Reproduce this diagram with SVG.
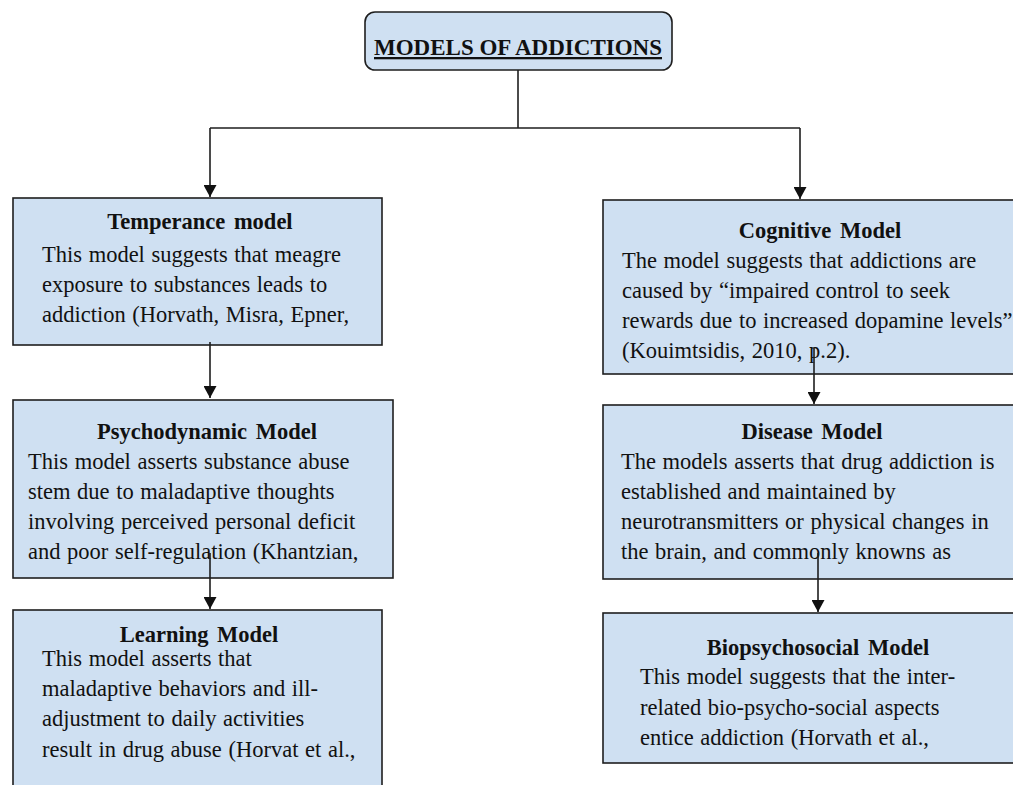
<svg xmlns="http://www.w3.org/2000/svg" width="1013" height="785" viewBox="0 0 1013 785">
<style>
.box{fill:#cfe0f2;stroke:#1e1e1e;stroke-width:1.6}
.t{font-family:"Liberation Serif","Times New Roman",serif;font-size:22.5px;fill:#111;word-spacing:1px}
.h{font-weight:bold;text-anchor:middle;word-spacing:3px}
.ttl{font-family:"Liberation Serif","Times New Roman",serif;font-size:23px;font-weight:bold;fill:#111;text-anchor:middle;text-decoration:underline}
.ln{fill:none;stroke:#1e1e1e;stroke-width:1.6}
</style>
<defs>
<marker id="ah" viewBox="0 0 12 13" refX="12" refY="6.5" markerWidth="12" markerHeight="13" markerUnits="userSpaceOnUse" orient="auto">
<path d="M0,0 L12,6.5 L0,13 Z" fill="#111"/>
</marker>
</defs>
<rect width="1013" height="785" fill="#fff"/>
<g id="title">
<rect class="box" x="365" y="12" width="307" height="58" rx="10"/>
<text class="ttl" x="518" y="55">MODELS OF ADDICTIONS</text>
</g>
<g id="temperance">
<rect class="box" x="13" y="198" width="369" height="147"/>
<text class="t h" x="200" y="229">Temperance model</text>
<text class="t" x="42" y="262">This model suggests that meagre</text>
<text class="t" x="42" y="292">exposure to substances leads to</text>
<text class="t" x="42" y="322">addiction (Horvath, Misra, Epner,</text>
</g>
<g id="psychodynamic">
<rect class="box" x="13" y="400" width="380" height="178"/>
<text class="t h" x="207" y="439">Psychodynamic Model</text>
<text class="t" x="28" y="469">This model asserts substance abuse</text>
<text class="t" x="28" y="499">stem due to maladaptive thoughts</text>
<text class="t" x="28" y="529">involving perceived personal deficit</text>
<text class="t" x="28" y="559">and poor self-regulation (Khantzian,</text>
</g>
<g id="learning">
<rect class="box" x="13" y="610" width="369" height="190"/>
<text class="t h" x="199" y="642">Learning Model</text>
<text class="t" x="42" y="666">This model asserts that</text>
<text class="t" x="42" y="696">maladaptive behaviors and ill-</text>
<text class="t" x="42" y="726">adjustment to daily activities</text>
<text class="t" x="42" y="757">result in drug abuse (Horvat et al.,</text>
</g>
<g id="cognitive">
<rect class="box" x="603" y="200" width="420" height="174"/>
<text class="t h" x="820" y="238">Cognitive Model</text>
<text class="t" x="622" y="268">The model suggests that addictions are</text>
<text class="t" x="622" y="298">caused by “impaired control to seek</text>
<text class="t" x="622" y="328">rewards due to increased dopamine levels”</text>
<text class="t" x="622" y="358">(Kouimtsidis, 2010, p.2).</text>
</g>
<g id="disease">
<rect class="box" x="603" y="405" width="420" height="174"/>
<text class="t h" x="812" y="439">Disease Model</text>
<text class="t" x="621" y="469">The models asserts that drug addiction is</text>
<text class="t" x="621" y="499">established and maintained by</text>
<text class="t" x="621" y="529">neurotransmitters or physical changes in</text>
<text class="t" x="621" y="559">the brain, and commonly knowns as</text>
</g>
<g id="biopsychosocial">
<rect class="box" x="603" y="613" width="420" height="150"/>
<text class="t h" x="818" y="655">Biopsychosocial Model</text>
<text class="t" x="640" y="684">This model suggests that the inter-</text>
<text class="t" x="640" y="715">related bio-psycho-social aspects</text>
<text class="t" x="640" y="745">entice addiction (Horvath et al.,</text>
</g>
<g id="connectors">
<path class="ln" d="M518,70 V128"/>
<path class="ln" d="M210,128 H800"/>
<path class="ln" d="M210,128 V197" marker-end="url(#ah)"/>
<path class="ln" d="M800,128 V199" marker-end="url(#ah)"/>
<path class="ln" d="M210,342 V398" marker-end="url(#ah)"/>
<path class="ln" d="M210,553 V609" marker-end="url(#ah)"/>
<path class="ln" d="M814,348 V404" marker-end="url(#ah)"/>
<path class="ln" d="M818,553 V612" marker-end="url(#ah)"/>
</g>
</svg>
